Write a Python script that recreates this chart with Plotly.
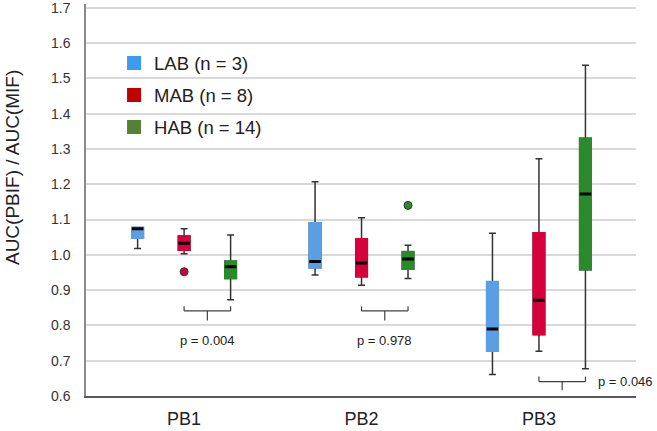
import plotly.graph_objects as go

categories = ["PB1", "PB2", "PB3"]
group_names = ["LAB (n = 3)", "MAB (n = 8)", "HAB (n = 14)"]

lab_low = [1.018, 0.943, 0.661]
lab_q1 = [1.047, 0.963, 0.727]
lab_med = [1.074, 0.981, 0.790]
lab_q3 = [1.077, 1.091, 0.924]
lab_high = [1.077, 1.207, 1.061]
lab_out_x = []
lab_out_y = []

mab_low = [1.003, 0.914, 0.727]
mab_q1 = [1.013, 0.938, 0.774]
mab_med = [1.033, 0.977, 0.871]
mab_q3 = [1.053, 1.045, 1.062]
mab_high = [1.074, 1.105, 1.272]
mab_out_x = ["PB1"]
mab_out_y = [0.952]

hab_low = [0.873, 0.933, 0.677]
hab_q1 = [0.933, 0.960, 0.958]
hab_med = [0.966, 0.988, 1.172]
hab_q3 = [0.982, 1.009, 1.330]
hab_high = [1.056, 1.027, 1.537]
hab_out_x = ["PB2"]
hab_out_y = [1.140]

p_labels = ["p = 0.004", "p = 0.978", "p = 0.046"]

y_ticks = [0.6, 0.7, 0.8, 0.9, 1.0, 1.1, 1.2, 1.3, 1.4, 1.5, 1.6, 1.7]

box_colors = ["#5a9fe6", "#d6003c", "#2b8a2b"]
legend_colors = ["#3d9cf0", "#c00000", "#548235"]

groups = [
    (lab_low, lab_q1, lab_med, lab_q3, lab_high, lab_out_x, lab_out_y),
    (mab_low, mab_q1, mab_med, mab_q3, mab_high, mab_out_x, mab_out_y),
    (hab_low, hab_q1, hab_med, hab_q3, hab_high, hab_out_x, hab_out_y),
]

FONT = "Liberation Sans, Arial, sans-serif"
fig = go.Figure()

for gi, (lo, q1, md, q3, hi, ox, oy) in enumerate(groups):
    col = box_colors[gi]
    og = "g%d" % gi
    # whiskers and caps
    fig.add_trace(go.Box(
        x=categories, q1=q1, median=md, q3=q3, lowerfence=lo, upperfence=hi,
        offsetgroup=og, fillcolor=col,
        line=dict(color="#333333", width=1.5), whiskerwidth=0.6,
        boxpoints=False, showlegend=False, hoverinfo="skip",
    ))
    # coloured box body without dark outline
    fig.add_trace(go.Box(
        x=categories, q1=q1, median=q1, q3=q3, lowerfence=q1, upperfence=q3,
        offsetgroup=og, fillcolor=col, line=dict(color=col, width=1.6),
        whiskerwidth=0.6, boxpoints=False, showlegend=False, hoverinfo="skip",
    ))
    # median bar
    fig.add_trace(go.Box(
        x=categories, q1=md, median=md, q3=md, lowerfence=md, upperfence=md,
        offsetgroup=og, fillcolor="#000000", line=dict(color="#000000", width=3),
        whiskerwidth=1, boxpoints=False, showlegend=False, hoverinfo="skip",
    ))
    # outliers
    if ox:
        fig.add_trace(go.Box(
            x=ox, y=oy, offsetgroup=og, boxpoints="all", pointpos=0, jitter=0,
            fillcolor="rgba(0,0,0,0)", line=dict(color="rgba(0,0,0,0)", width=0),
            marker=dict(color=col, size=8, line=dict(color="#333333", width=1)),
            showlegend=False, hoverinfo="skip",
        ))

for gi, name in enumerate(group_names):
    fig.add_trace(go.Scatter(
        x=[None], y=[None], mode="markers", name=name, legendgroup=name,
        marker=dict(symbol="square", size=14, color=legend_colors[gi]),
    ))

slot = (1 - 0.214) / 3
bracket_levels = [(0.854, 0.841, 0.814), (0.854, 0.841, 0.814), (0.655, 0.641, 0.616)]
text_pos = [(0.758, "center"), (0.756, "center"), (0.641, "left")]
line_style = dict(color="#404040", width=1.2)
for ci, (yt, yb, ytk) in enumerate(bracket_levels):
    xa, xb = ci, ci + slot
    xm = (xa + xb) / 2
    for (x0, y0, x1, y1) in [(xa, yt, xa, yb), (xa, yb, xb, yb), (xb, yb, xb, yt), (xm, yb, xm, ytk)]:
        fig.add_shape(type="line", xref="x", yref="y", x0=x0, y0=y0, x1=x1, y1=y1, line=line_style)
    ty, anc = text_pos[ci]
    fig.add_annotation(
        x=(xm if anc == "center" else xb + 0.06), y=ty, xref="x", yref="y",
        text=p_labels[ci], showarrow=False, xanchor=anc, yanchor="middle",
        font=dict(family=FONT, size=13, color="#222222"),
    )

fig.add_annotation(
    text="AUC(PBIF) / AUC(MIF)", textangle=-90, showarrow=False,
    xref="paper", yref="paper", x=-0.1345, y=0.5816, xanchor="center", yanchor="middle",
    font=dict(family=FONT, size=19, color="#222222"),
)

fig.update_layout(
    width=657, height=431,
    margin=dict(l=86, r=21, t=4, b=35),
    paper_bgcolor="white", plot_bgcolor="white",
    boxmode="group", boxgap=0.214, boxgroupgap=0.752,
    font=dict(family=FONT, color="#222222"),
    legend=dict(
        x=0.051, y=0.897, xanchor="left", yanchor="top",
        font=dict(family=FONT, size=18.5, color="#222222"),
        tracegroupgap=5, bgcolor="rgba(0,0,0,0)",
    ),
)
fig.update_xaxes(
    type="category", range=[-0.553, 2.547], automargin=False,
    showline=True, linecolor="#595959", linewidth=1.5,
    showgrid=False, ticks="", ticklabelstandoff=6,
    tickfont=dict(family=FONT, size=18, color="#222222"),
)
fig.update_yaxes(
    range=[0.6, 1.7105], tickvals=y_ticks, tickformat=".1f", automargin=False,
    showline=True, linecolor="#8a8a8a", linewidth=1.5,
    showgrid=True, gridcolor="#d9d9d9", gridwidth=1.5, zeroline=False,
    ticks="", ticklabelstandoff=11, ticklabeloverflow="allow",
    tickfont=dict(family=FONT, size=14, color="#333333"),
)

fig.write_html(
    "out.html",
    config={"displayModeBar": False},
    post_script="document.body.style.margin='0';",
)
